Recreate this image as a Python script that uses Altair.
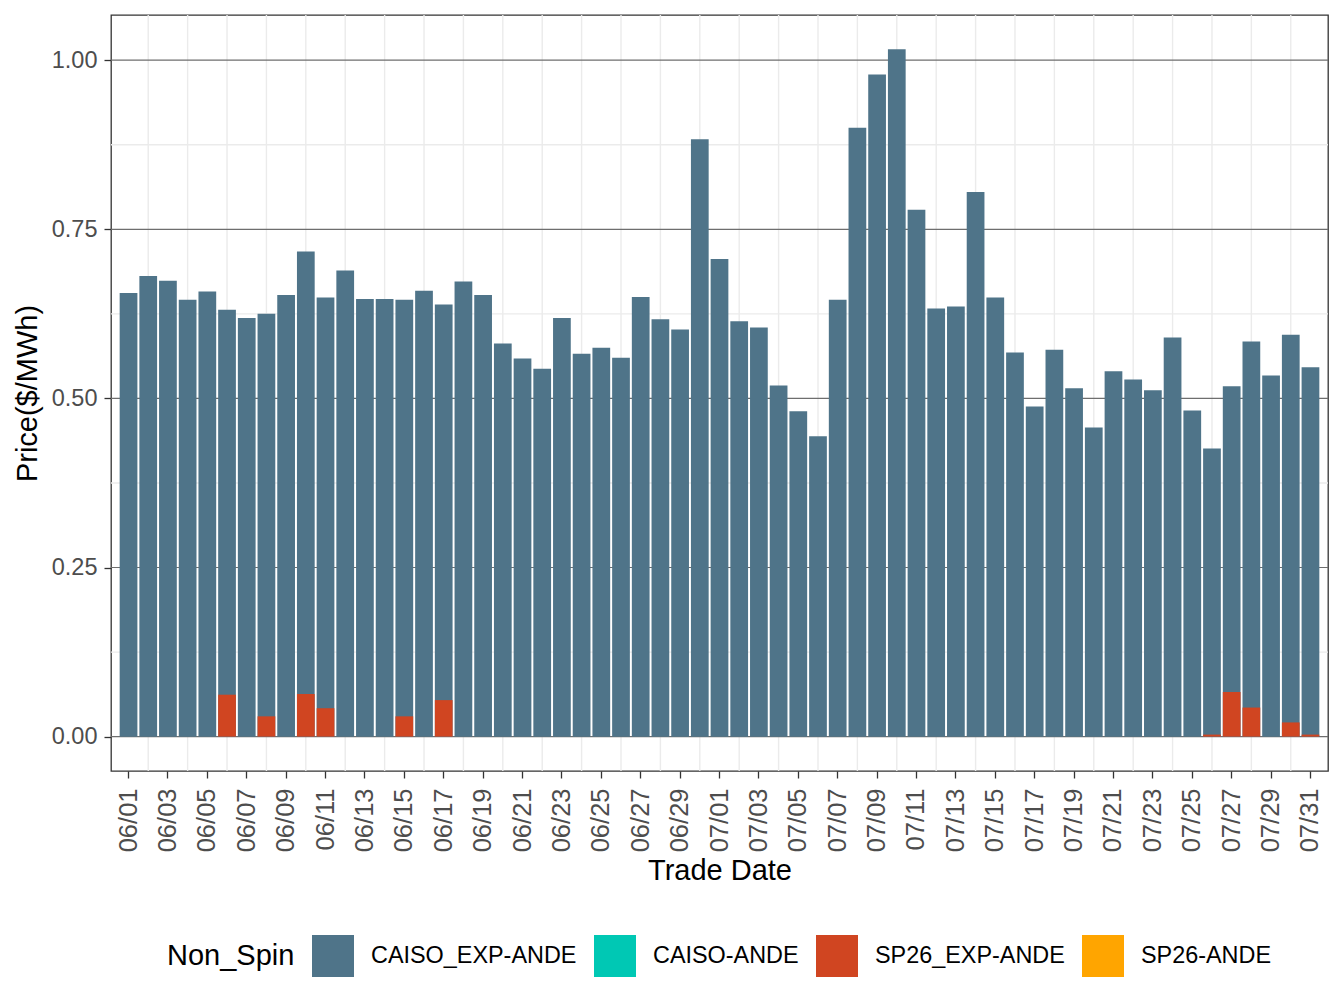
import altair as alt
import pandas as pd

# ---- data ----
dates = list(pd.date_range("2023-06-01", "2023-07-31").strftime("%m/%d"))
label_dates = dates[::2]
grid_dates = dates[1::2]

series_names = ["CAISO_EXP-ANDE", "CAISO-ANDE", "SP26_EXP-ANDE", "SP26-ANDE"]
series_colors = ["#4F7489", "#00C8B4", "#D04521", "#FFA500"]

caiso_exp_ande = [
    0.656, 0.681, 0.674, 0.646, 0.658, 0.631, 0.619, 0.625, 0.653, 0.717,
    0.649, 0.689, 0.647, 0.647, 0.646, 0.659, 0.639, 0.673, 0.653, 0.581,
    0.559, 0.544, 0.619, 0.566, 0.575, 0.560, 0.650, 0.617, 0.602, 0.883,
    0.706, 0.614, 0.605, 0.519, 0.481, 0.444, 0.646, 0.900, 0.979, 1.016,
    0.779, 0.633, 0.636, 0.805, 0.649, 0.568, 0.488, 0.572, 0.515, 0.457,
    0.540, 0.528, 0.512, 0.590, 0.482, 0.426, 0.518, 0.584, 0.534, 0.594,
    0.546,
]
sp26_exp_ande = [
    0, 0, 0, 0, 0, 0.062, 0, 0.030, 0, 0.063,
    0.042, 0, 0, 0, 0.030, 0, 0.054, 0, 0, 0,
    0, 0, 0, 0, 0, 0, 0, 0, 0, 0,
    0, 0, 0, 0, 0, 0, 0, 0, 0, 0,
    0, 0, 0, 0, 0, 0, 0, 0, 0, 0,
    0, 0, 0, 0, 0, 0.003, 0.066, 0.043, 0, 0.021,
    0.003,
]

y_major = [0.0, 0.25, 0.5, 0.75, 1.0]
y_minor = [0.125, 0.375, 0.625, 0.875]

FONT = "Liberation Sans"

df_blue = pd.DataFrame({"date": dates, "price": caiso_exp_ande, "series": "CAISO_EXP-ANDE"})
df_red = pd.DataFrame({"date": dates, "price": sp26_exp_ande, "series": "SP26_EXP-ANDE"})
df_red = df_red[df_red["price"] > 0]
df_bars = pd.concat([df_blue, df_red], ignore_index=True)

xscale = alt.Scale(domain=dates, paddingInner=0.1, paddingOuter=0.44)
yscale = alt.Scale(domain=[-0.0508, 1.0668], nice=False, zero=False)
cscale = alt.Scale(domain=series_names, range=series_colors)

x_axis = alt.Axis(
    values=label_dates, labelAngle=270, labelFontSize=25.5, labelColor="#4D4D4D",
    labelFont=FONT, tickColor="#333333", tickSize=7, tickWidth=1.3,
    domain=False, grid=False, labelPadding=10,
    title="Trade Date", titleFont=FONT, titleFontSize=29, titleFontWeight="normal",
    titleColor="#000000", titlePadding=5,
)
y_axis = alt.Axis(
    values=y_major, format=".2f", labelFontSize=23.5, labelColor="#4D4D4D",
    labelFont=FONT, tickColor="#333333", tickSize=7, tickWidth=1.3,
    domain=False, grid=False, labelPadding=7,
    title="Price($/MWh)", titleFont=FONT, titleFontSize=29, titleFontWeight="normal",
    titleColor="#000000", titlePadding=9,
)

minor_h = alt.Chart(pd.DataFrame({"price": y_minor})).mark_rule(
    color="#EBEBEB", strokeWidth=1.4
).encode(y=alt.Y("price:Q", scale=yscale, axis=y_axis))

minor_v = alt.Chart(pd.DataFrame({"date": grid_dates})).mark_rule(
    color="#EBEBEB", strokeWidth=1.4
).encode(x=alt.X("date:O", scale=xscale, axis=x_axis))

major_h = alt.Chart(pd.DataFrame({"price": y_major})).mark_rule(
    color="#6E6E6E", strokeWidth=1.2
).encode(y=alt.Y("price:Q", scale=yscale, axis=y_axis))

legend = alt.Legend(
    title="Non_Spin", orient="none", legendX=56, legendY=920,
    direction="horizontal", titleOrient="left", titleFont=FONT, titleFontSize=29,
    titleFontWeight="normal", titleColor="#000000", titlePadding=17,
    titleBaseline="middle", titleAnchor="middle",
    symbolType="square", symbolSize=1764, symbolStrokeWidth=0, symbolOpacity=1,
    labelFont=FONT, labelFontSize=23.4, labelColor="#000000", labelLimit=400,
    labelOffset=17, columnPadding=17,
)

bars = alt.Chart(df_bars).mark_bar(opacity=1).encode(
    x=alt.X("date:O", scale=xscale, axis=x_axis),
    y=alt.Y("price:Q", scale=yscale, axis=y_axis, stack=None),
    color=alt.Color("series:N", scale=cscale, legend=legend),
    order=alt.Order("order_key:Q"),
).transform_calculate(order_key="datum.series == 'CAISO_EXP-ANDE' ? 0 : 1")

chart = alt.layer(minor_h, minor_v, major_h, bars).properties(
    width=1217, height=756,
    padding={"left": 103, "top": 7, "right": 8, "bottom": 229},
    autosize=alt.AutoSizeParams(type="none"),
    background="white",
).configure_view(stroke="#333333", strokeWidth=1.3)

chart.save("out.html", embed_options={"renderer": "svg", "actions": False})
